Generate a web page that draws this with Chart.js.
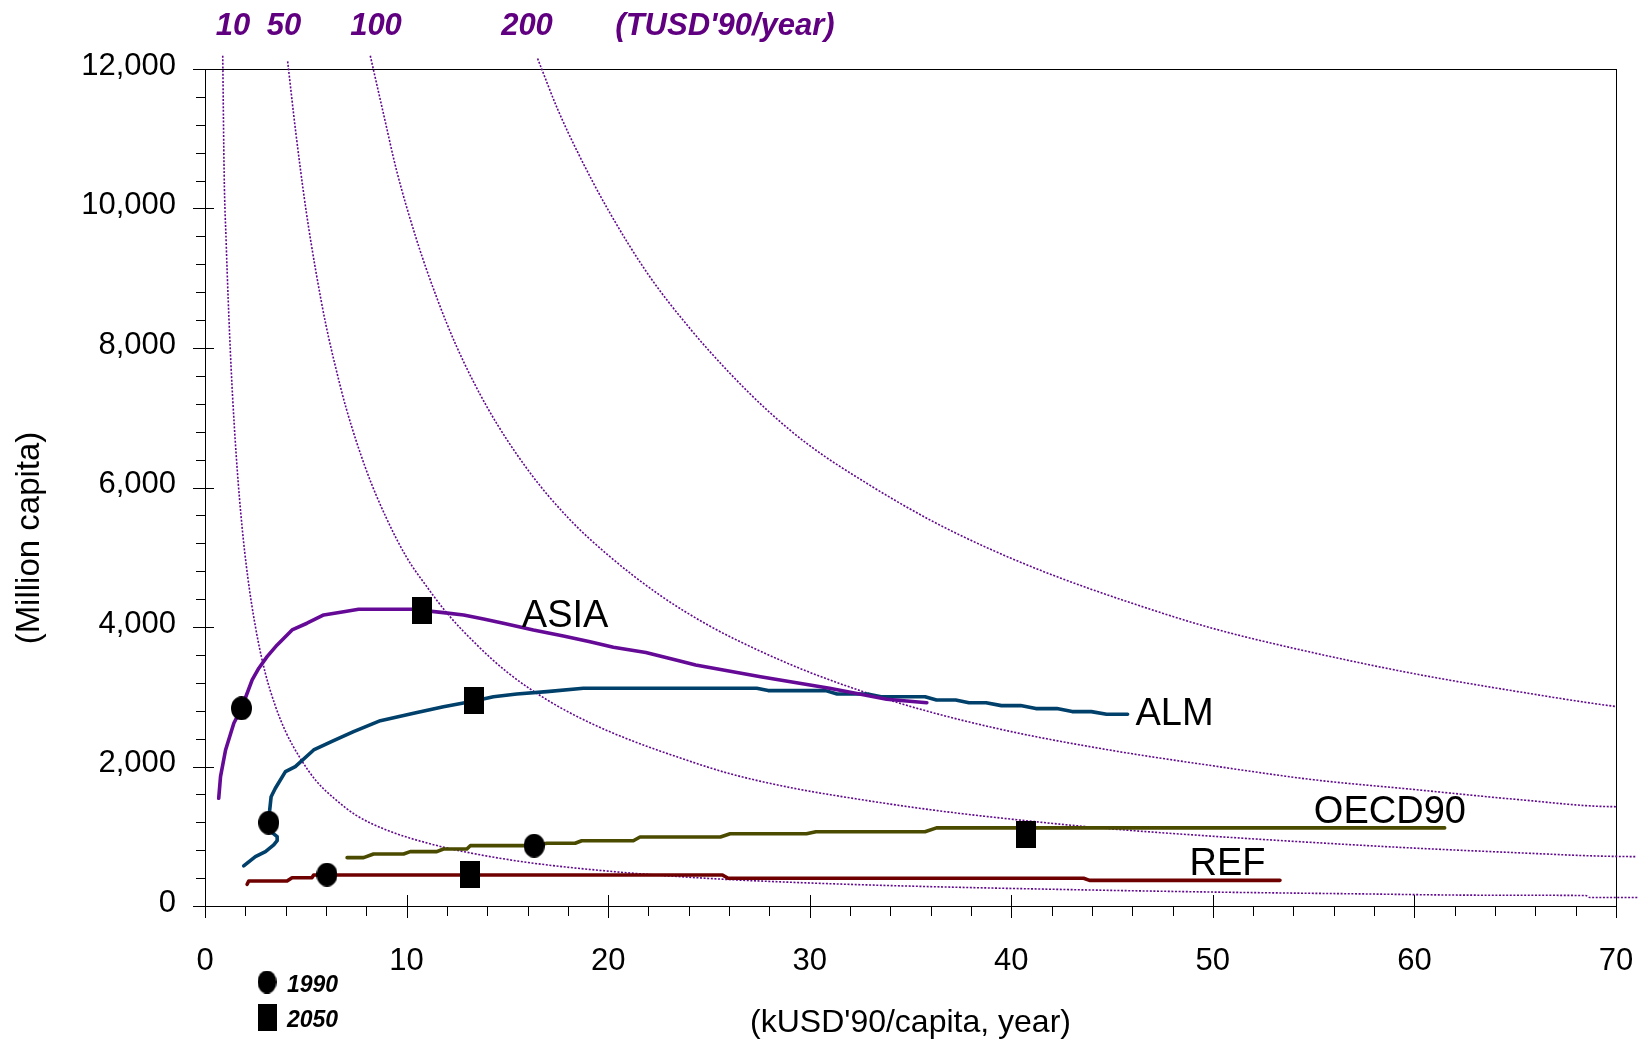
<!DOCTYPE html>
<html><head><meta charset="utf-8">
<script src="https://cdn.jsdelivr.net/npm/chart.js@4/dist/chart.umd.min.js"></script>
<style>html,body{margin:0;padding:0;background:#fff;}canvas{display:block;}</style>
</head><body>
<canvas id="c" width="1647" height="1042" style="width:1647px;height:1042px"></canvas>
<script>
// ---- Regional trajectories (x: kUSD'90/capita, y: million capita) ----
const asiaX = [0.68, 0.77, 1.02, 1.43, 1.81, 2.34, 2.67, 3.08, 3.58, 4.32, 5.06, 5.89, 6.88, 7.62, 10.27, 11.83, 12.83, 13.82, 14.80, 16.29, 17.78, 19.10, 20.26, 21.87, 23.56, 24.34, 27.56, 30.98, 33.82, 35.81];
const asiaY = [1544, 1854, 2237, 2620, 2835, 3241, 3409, 3575, 3743, 3958, 4054, 4173, 4220, 4255, 4255, 4206, 4173, 4116, 4054, 3958, 3872, 3790, 3710, 3633, 3513, 3456, 3288, 3122, 2964, 2915];

const almX = [1.92, 2.50, 3.00, 3.41, 3.58, 3.58, 3.33, 3.16, 3.21, 3.28, 3.49, 3.99, 4.48, 5.39, 6.38, 7.37, 8.70, 10.35, 11.83, 13.35, 14.31, 15.47, 16.96, 18.77, 27.37, 27.94, 30.79, 31.36, 32.87, 33.54, 35.72, 36.29, 37.24, 37.90, 38.75, 39.51, 40.46, 41.22, 42.26, 43.02, 43.97, 44.73, 45.77];
const almY = [574, 707, 779, 875, 937, 994, 1051, 1195, 1377, 1567, 1688, 1926, 1998, 2237, 2370, 2500, 2657, 2763, 2858, 2940, 3001, 3040, 3073, 3122, 3122, 3088, 3088, 3040, 3040, 3001, 3001, 2954, 2954, 2915, 2915, 2873, 2873, 2830, 2830, 2787, 2787, 2749, 2749];

const oecdX = [7.05, 7.87, 8.36, 9.85, 10.18, 11.50, 11.83, 12.99, 13.16, 16.33, 16.96, 18.36, 18.69, 21.25, 21.58, 25.57, 26.05, 29.84, 30.31, 35.72, 36.29, 61.50];
const oecdY = [693, 693, 746, 746, 779, 779, 817, 817, 865, 865, 899, 899, 936, 936, 990, 990, 1035, 1035, 1065, 1065, 1120, 1120];

const refX = [2.09, 2.17, 4.07, 4.32, 5.31, 5.39, 25.67, 25.95, 43.59, 43.88, 53.33];
const refY = [311, 358, 358, 406, 406, 445, 445, 397, 397, 368, 368];

// ---- Year markers ----
const y1990X = [1.81, 3.16, 16.33, 6.05];
const y1990Y = [2835, 1195, 865, 450];
const y2050X = [10.76, 13.35, 40.72, 13.13];
const y2050Y = [4240, 2940, 1018, 445];

// ---- Iso-GDP curves (TUSD'90/year) ----
const isoLabels = ['10', '50', '100', '200'];
const iso10X = [0.88, 0.95, 1.05, 1.15, 1.3, 1.45, 1.65, 1.9, 2.2, 2.6, 3.0, 3.5, 4.0, 4.7, 5.5, 6.5, 7.5, 9, 11, 13, 16, 20, 25, 30, 35, 42, 50, 57, 63.5, 68.5, 68.7, 71.1];
const iso10Y = [12190, 10500, 9520, 8700, 7690, 6900, 6060, 5260, 4550, 3850, 3330, 2860, 2500, 2130, 1800, 1520, 1300, 1090, 905, 770, 625, 500, 395, 330, 285, 240, 200, 175, 155, 150, 122, 122];
const iso50X = [4.1, 4.5, 5, 5.5, 6, 6.5, 7, 8, 9, 10, 11, 12, 13.5, 15, 17, 19, 21, 23.5, 26, 29, 32, 36, 40, 45, 50, 55, 60, 65, 69, 71];
const iso50Y = [12110, 11100, 10000, 9100, 8330, 7700, 7140, 6250, 5560, 5000, 4580, 4200, 3740, 3350, 2950, 2640, 2390, 2130, 1900, 1700, 1550, 1380, 1245, 1105, 1000, 910, 830, 765, 717, 707];
const iso100X = [8.2, 8.9, 9.5, 10.5, 11.5, 12.5, 14, 16, 18, 20, 22.5, 25, 27.5, 30, 33, 36, 40, 45, 50, 55, 60, 65, 70, 71];
const iso100Y = [12190, 11300, 10550, 9550, 8720, 8010, 7150, 6260, 5570, 5030, 4470, 4020, 3660, 3350, 3040, 2780, 2500, 2230, 2010, 1810, 1670, 1530, 1424, 1424];
const iso200X = [16.5, 17.5, 18.5, 20, 22, 24, 26, 28, 30, 33, 36, 39, 42, 46, 50, 55, 60, 65, 70, 71];
const iso200Y = [12150, 11420, 10800, 9980, 9050, 8300, 7650, 7080, 6600, 6030, 5530, 5110, 4750, 4340, 3980, 3630, 3330, 3080, 2860, 2830];

// ---- Axis ticks ----
const xTickValues = [0, 10, 20, 30, 40, 50, 60, 70];
const yTickValues = [0, 2000, 4000, 6000, 8000, 10000, 12000];

// ---- Series names ----
const seriesNames = ['ASIA', 'ALM', 'OECD90', 'REF'];
const legendYears = ['1990', '2050'];

const FONT = '"Liberation Sans", Arial, sans-serif';
const pts = (xs, ys) => xs.map((x, i) => ({x, y: ys[i]}));

function ellipseCanvas(w, h) {
  const c = document.createElement('canvas'); c.width = w; c.height = h;
  const g = c.getContext('2d'); g.fillStyle = '#000';
  g.beginPath(); g.ellipse(w / 2, h / 2, w / 2, h / 2, 0, 0, Math.PI * 2); g.fill();
  return c;
}
function rectCanvas(w, h) {
  const c = document.createElement('canvas'); c.width = w; c.height = h;
  const g = c.getContext('2d'); g.fillStyle = '#000'; g.fillRect(0, 0, w, h);
  return c;
}
const dotImg = ellipseCanvas(21, 24);
const sqImg = rectCanvas(20, 27);
const dotLeg = ellipseCanvas(19, 23);
const sqLeg = rectCanvas(19, 27);

const isoColor = '#62088f';
function isoDs(label, xs, ys) {
  return { label, data: pts(xs, ys), showLine: true, borderColor: isoColor, borderWidth: 1.6,
    borderDash: [2, 1.6], pointRadius: 0, cubicInterpolationMode: 'monotone', clip: false, order: 3 };
}
function lineDs(label, xs, ys, color) {
  return { label, data: pts(xs, ys), showLine: true, borderColor: color, borderWidth: 3.6,
    pointRadius: 0, tension: 0, borderJoinStyle: 'round', borderCapStyle: 'round', order: 2 };
}

const labelAnchors = [
  { text: seriesNames[0], x: 15.72, y: 4005 },
  { text: seriesNames[1], x: 46.16, y: 2596 },
  { text: seriesNames[2], x: 55.01, y: 1190 },
  { text: seriesNames[3], x: 48.84, y: 445 }
];

const decor = {
  id: 'decor',
  beforeDatasetsDraw(chart) {
    const { ctx, chartArea: a, scales: { x, y } } = chart;
    ctx.save();
    ctx.strokeStyle = '#000'; ctx.lineWidth = 1;
    ctx.strokeRect(Math.round(a.left) + 0.5, Math.round(a.top) + 0.5, Math.round(a.right - a.left), Math.round(a.bottom - a.top));
    for (let v = 0; v <= 12000; v += 400) {
      const py = Math.round(y.getPixelForValue(v)) + 0.5;
      const major = v % 2000 === 0;
      ctx.beginPath(); ctx.moveTo(a.left - (major ? 12 : 9), py); ctx.lineTo(a.left + (major ? 9 : 0), py); ctx.stroke();
    }
    for (let v = 0; v <= 70; v += 2) {
      const px = Math.round(x.getPixelForValue(v)) + 0.5;
      const major = v % 10 === 0;
      ctx.beginPath(); ctx.moveTo(px, a.bottom - (major ? 11 : 0)); ctx.lineTo(px, a.bottom + (major ? 12 : 10)); ctx.stroke();
    }
    ctx.restore();
  },
  afterDraw(chart) {
    const { ctx, scales: { x, y } } = chart;
    ctx.save();
    ctx.fillStyle = '#600080';
    ctx.font = 'italic bold 31px ' + FONT;
    ctx.textAlign = 'center'; ctx.textBaseline = 'alphabetic';
    const topPos = [233, 284, 376, 527];
    isoLabels.forEach((t, i) => ctx.fillText(t, topPos[i], 35));
    ctx.fillText("(TUSD'90/year)", 725, 35);
    ctx.fillStyle = '#000';
    ctx.font = '38px ' + FONT;
    ctx.textAlign = 'left';
    labelAnchors.forEach(l => ctx.fillText(l.text, x.getPixelForValue(l.x), y.getPixelForValue(l.y)));
    ctx.font = '33px ' + FONT;
    ctx.save(); ctx.translate(30, 538); ctx.rotate(-Math.PI / 2);
    ctx.textAlign = 'center'; ctx.textBaseline = 'middle';
    ctx.fillText('(Million capita)', 0, 0); ctx.restore();
    ctx.drawImage(dotLeg, 267 - 9.5, 982 - 11.5);
    ctx.drawImage(sqLeg, 267 - 9.5, 1017 - 13.5);
    ctx.font = 'italic bold 23px ' + FONT;
    ctx.textAlign = 'left'; ctx.textBaseline = 'alphabetic';
    ctx.fillText(legendYears[0], 287, 992);
    ctx.fillText(legendYears[1], 287, 1027);
    ctx.restore();
  }
};

new Chart(document.getElementById('c'), {
  type: 'scatter',
  data: {
    datasets: [
      { label: legendYears[0], data: pts(y1990X, y1990Y), pointStyle: dotImg, pointRadius: 10, showLine: false, order: 0 },
      { label: legendYears[1], data: pts(y2050X, y2050Y), pointStyle: sqImg, pointRadius: 10, showLine: false, order: 0 },
      lineDs(seriesNames[0], asiaX, asiaY, '#650a96'),
      lineDs(seriesNames[1], almX, almY, '#00406a'),
      lineDs(seriesNames[2], oecdX, oecdY, '#4b4b00'),
      lineDs(seriesNames[3], refX, refY, '#6e0000'),
      isoDs(isoLabels[0], iso10X, iso10Y),
      isoDs(isoLabels[1], iso50X, iso50Y),
      isoDs(isoLabels[2], iso100X, iso100Y),
      isoDs(isoLabels[3], iso200X, iso200Y)
    ]
  },
  options: {
    responsive: false, animation: false, devicePixelRatio: 1,
    layout: { padding: { left: 0, top: 69, right: 31, bottom: 0 } },
    plugins: { legend: { display: false }, tooltip: { enabled: false } },
    scales: {
      x: {
        type: 'linear', min: 0, max: 70, position: 'bottom',
        afterBuildTicks: s => { s.ticks = xTickValues.map(v => ({ value: v })); },
        grid: { display: false }, border: { display: false },
        ticks: { color: '#000', font: { family: FONT, size: 31 }, padding: 29, maxRotation: 0 },
        title: { display: true, text: "(kUSD'90/capita, year)", color: '#000', font: { family: FONT, size: 32 }, padding: 0 },
        afterFit: s => { s.height = 136; s.paddingLeft = 0; s.paddingRight = 0; }
      },
      y: {
        type: 'linear', min: 0, max: 12000,
        afterBuildTicks: s => { s.ticks = yTickValues.map(v => ({ value: v })); },
        grid: { display: false }, border: { display: false },
        ticks: { color: '#000', font: { family: FONT, size: 31 }, padding: 21, labelOffset: -3,
          callback: v => v.toLocaleString('en-US') },
        afterFit: s => { s.width = 205; s.paddingTop = 0; s.paddingBottom = 0; }
      }
    }
  },
  plugins: [decor]
});
</script>
</body></html>
